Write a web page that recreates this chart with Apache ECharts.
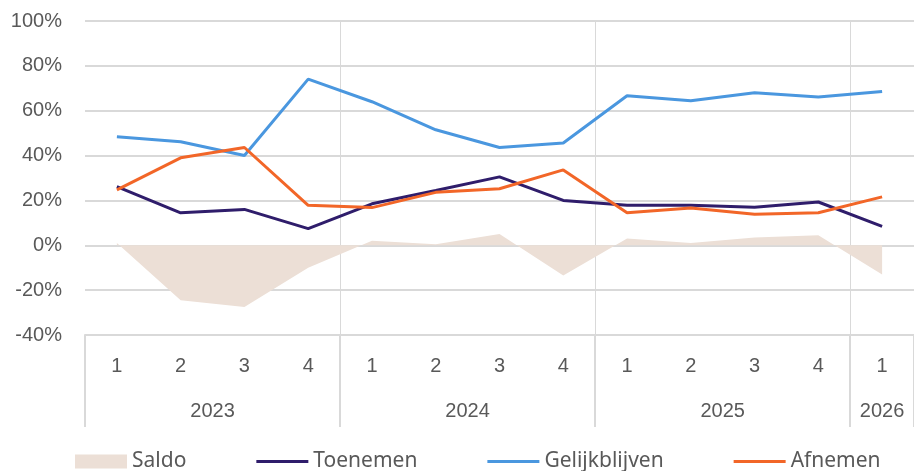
<!DOCTYPE html>
<html>
<head>
<meta charset="utf-8">
<script src="https://cdn.jsdelivr.net/npm/echarts@6/dist/echarts.min.js"></script>
<style>
  html, body { margin: 0; padding: 0; background: #fff; }
  #container { width: 914px; height: 471px; }
</style>
</head>
<body>
<div id="container"></div>
<script>
var quarters = ['1', '2', '3', '4', '1', '2', '3', '4', '1', '2', '3', '4', '1'];
var years = ['2023', '2023', '2023', '2023', '2024', '2024', '2024', '2024', '2025', '2025', '2025', '2025', '2026'];
var saldo = [1, -24.5, -27.5, -10, 2, 0.5, 5, -13.5, 3, 1, 3.5, 4.5, -13];
var toenemen = [26.2, 14.5, 16, 7.4, 18.5, 24.4, 30.5, 20, 17.8, 17.8, 17, 19.3, 8.4];
var gelijkblijven = [48.4, 46.2, 40, 74.1, 64, 51.5, 43.6, 45.6, 66.7, 64.4, 68, 66.1, 68.6];
var afnemen = [24.7, 39, 43.6, 17.8, 16.8, 23.6, 25.2, 33.6, 14.5, 16.6, 13.8, 14.5, 21.6];

// year groups: where each year starts and its center (in category units)
var groupStarts = [];
var yearCenters = {};
(function () {
    var start = 0;
    for (var i = 1; i <= years.length; i++) {
        if (i == years.length || years[i] != years[start]) {
            groupStarts.push(start);
            yearCenters[(start + i) / 2] = years[start];
            start = i;
        }
    }
})();

var grey = '#d9d9d9';
var txt = '#595959';
var font = 'Liberation Sans';
var lineIcon = 'path://M0,0 L52,0 L52,3 L0,3 Z';

var dom = document.getElementById("container");
var myChart = echarts.init(dom);
var option = {
    animation: false,
    grid: { left: 85, top: 21, width: 832, bottom: 136, containLabel: false },
    legend: {
        left: 70,
        top: 446,
        itemGap: 70,
        itemWidth: 52,
        itemHeight: 14,
        textStyle: { fontSize: 21, color: txt, fontFamily: 'Noto Sans' },
        data: [
            { name: 'Saldo', icon: 'rect' },
            { name: 'Toenemen', icon: lineIcon },
            { name: 'Gelijkblijven', icon: lineIcon },
            { name: 'Afnemen', icon: lineIcon }
        ]
    },
    xAxis: [{
        type: 'category',
        data: quarters,
        boundaryGap: true,
        axisLine: { onZero: false, lineStyle: { color: grey, width: 2 } },
        axisTick: {
            show: true,
            length: 92,
            lineStyle: { color: grey, width: 2 },
            interval: function (i) { return groupStarts.indexOf(i) >= 0; }
        },
        axisLabel: { fontSize: 20, color: txt, margin: 21, fontFamily: font },
        splitLine: {
            show: true,
            lineStyle: { color: grey, width: 1 },
            interval: function (i) { return i > 0 && groupStarts.indexOf(i) >= 0; }
        }
    }, {
        type: 'value',
        position: 'bottom',
        min: 0,
        max: quarters.length,
        axisLine: { show: false },
        axisTick: { show: false },
        splitLine: { show: false },
        axisLabel: {
            fontSize: 20,
            color: txt,
            margin: 66,
            fontFamily: font,
            customValues: Object.keys(yearCenters).map(Number),
            formatter: function (v) { return yearCenters[v] || ''; }
        }
    }],
    yAxis: {
        type: 'value',
        min: -40,
        max: 100,
        interval: 20,
        axisLine: { show: false },
        axisTick: { show: false },
        axisLabel: { formatter: '{value}%', fontSize: 20, color: txt, margin: 23, fontFamily: font },
        splitLine: { lineStyle: { color: grey, width: 2 } }
    },
    series: [{
        name: 'Saldo',
        type: 'line',
        data: saldo,
        symbol: 'none',
        lineStyle: { width: 0 },
        itemStyle: { color: '#ecdfd6' },
        areaStyle: { color: '#ecdfd6', opacity: 1 }
    }, {
        name: 'Toenemen',
        type: 'line',
        data: toenemen,
        symbol: 'none',
        lineStyle: { width: 3, color: '#2f1d6b' },
        itemStyle: { color: '#2f1d6b' }
    }, {
        name: 'Gelijkblijven',
        type: 'line',
        data: gelijkblijven,
        symbol: 'none',
        lineStyle: { width: 3, color: '#4a97df' },
        itemStyle: { color: '#4a97df' }
    }, {
        name: 'Afnemen',
        type: 'line',
        data: afnemen,
        symbol: 'none',
        lineStyle: { width: 3, color: '#f26628' },
        itemStyle: { color: '#f26628' }
    }]
};

if (option && typeof option === "object") {
    myChart.setOption(option, true);
}
</script>
</body>
</html>
